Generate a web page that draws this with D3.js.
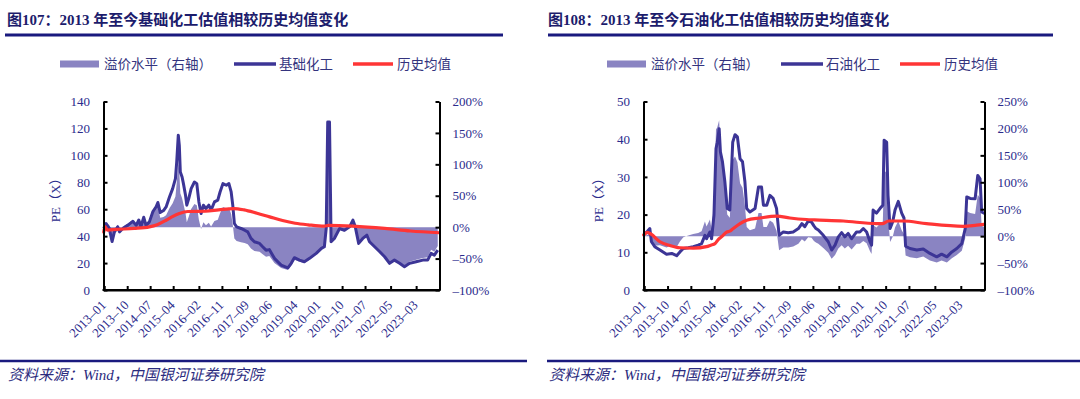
<!DOCTYPE html>
<html><head><meta charset="utf-8">
<script src="https://cdn.jsdelivr.net/npm/d3@7"></script>
<style>body{margin:0;background:#fff}svg{display:block}</style>
</head><body><svg id="c" width="1080" height="399"></svg>
<script>
// ---------- DATA ----------
const xTickLabels = ["2013-01","2013-10","2014-07","2015-04","2016-02","2016-11","2017-09","2018-06","2019-04","2020-01","2020-10","2021-07","2022-05","2023-03"];

const chemDates = ["2013-01-04","2013-02-01","2013-03-10","2013-04-13","2013-05-10","2013-06-19","2013-07-10","2013-08-19","2013-10-16","2013-12-16",
"2014-01-25","2014-02-25","2014-03-22","2014-04-25","2014-05-22","2014-07-01","2014-08-10","2014-09-19","2014-10-10","2014-11-07",
"2014-12-16","2015-01-16","2015-02-25","2015-04-04","2015-05-07","2015-05-22","2015-06-10","2015-06-22","2015-07-04","2015-07-25",
"2015-08-10","2015-09-04","2015-09-19","2015-10-13","2015-11-10","2015-12-19","2016-01-16","2016-02-10","2016-03-07","2016-04-04",
"2016-05-04","2016-06-07","2016-07-04","2016-08-13","2016-09-22","2016-10-19","2016-11-22","2017-01-01","2017-02-01","2017-02-28",
"2017-03-19","2017-04-07","2017-05-04","2017-06-25","2017-08-07","2017-09-13","2017-10-22","2017-12-01","2018-02-01","2018-03-10",
"2018-04-19","2018-05-28","2018-07-28","2018-10-16","2019-01-04","2019-02-13","2019-03-22","2019-05-22","2019-07-19","2019-09-19",
"2019-12-07","2020-02-07","2020-03-13","2020-04-04","2020-04-22","2020-05-13","2020-05-25","2020-06-01","2020-07-10","2020-09-10",
"2020-11-07","2021-01-07","2021-02-16","2021-03-16","2021-04-25","2021-06-13","2021-08-01","2021-09-01","2021-11-01","2022-01-01",
"2022-02-28","2022-04-28","2022-06-25","2022-08-25","2022-10-22","2022-12-22","2023-03-10","2023-05-28","2023-07-25","2023-09-04",
"2023-10-13","2023-11-22"];
const chemPE = [45.7,49.4,46,36,43,47,43.2,45.7,48,51,
48,52,47,54,48,50.6,58,61.7,65,57.5,
59,61.7,69,75.3,82.7,95,115,107.4,87.6,83.9,
79,70.4,63,68,75.3,80.2,79,65.4,56.8,63,
60.5,63,59.3,65.4,66.7,72.8,79,77.8,79,72.8,
63,49.4,46.9,45.7,44.4,43.2,38.3,35.8,34.6,32.1,
29.6,30,23.5,18.5,16.5,19.8,24,22.2,21,23.5,
27.2,30.9,32.1,45.7,124.7,124.7,70.4,35.8,38.3,45.7,
44.4,46.9,51.9,46.9,34.6,38.3,40.7,35.8,32.1,28.4,
24.7,19.8,22.2,19.8,17.3,19.8,21,22.2,22.2,27.2,
25.9,29.6];
const chemPremium = [0.06,0.07,0.03,-0.20,-0.04,0.04,-0.04,0.01,0.06,0.12,
0.05,0.13,0.02,0.16,0.03,0.08,0.22,0.28,0.33,0.15,
0.16,0.19,0.30,0.38,0.49,0.70,1.04,0.89,0.54,0.46,
0.37,0.22,0.08,0.17,0.29,0.37,0.35,0.12,-0.03,0.08,
0.03,0.07,0.01,0.10,0.12,0.22,0.32,0.30,0.31,0.21,
0.04,-0.18,-0.22,-0.24,-0.25,-0.27,-0.34,-0.38,-0.39,-0.43,
-0.47,-0.46,-0.57,-0.65,-0.68,-0.61,-0.52,-0.55,-0.57,-0.52,
-0.43,-0.35,-0.32,-0.04,1.60,1.60,0.47,-0.25,-0.20,-0.04,
-0.07,-0.01,0.09,-0.01,-0.27,-0.18,-0.13,-0.23,-0.31,-0.38,
-0.46,-0.56,-0.51,-0.56,-0.61,-0.55,-0.52,-0.49,-0.48,-0.36,
-0.39,-0.30];
const chemMeanDates = ["2013-01-04","2013-01-19","2013-02-16","2013-06-01","2014-01-01","2014-07-01","2014-10-01","2015-01-16","2015-04-01","2015-06-22",
"2015-10-01","2016-05-01","2016-10-01","2017-04-01","2017-08-01","2018-01-01","2018-06-01","2018-11-01","2019-04-01","2019-09-01",
"2020-03-13","2020-05-01","2021-02-16","2022-03-01","2023-01-01","2023-12-13"];
const chemMean = [43,47,44.5,45,45.7,46.9,48.5,51.8,54.5,56.8,
58.3,58.5,59.5,60.5,59.5,57,54.3,51.6,49.6,48.4,
47.4,48,47.4,45.7,43.8,42.5];

const petroDates = ["2013-01-04","2013-02-16","2013-03-16","2013-04-04","2013-05-13","2013-07-13","2013-09-28","2013-11-28","2014-01-25","2014-03-04",
"2014-04-13","2014-06-10","2014-08-07","2014-10-04","2014-11-13","2014-12-22","2015-01-10","2015-02-19","2015-03-10","2015-04-07",
"2015-05-01","2015-05-16","2015-06-07","2015-06-22","2015-07-16","2015-08-13","2015-09-10","2015-10-10","2015-11-13","2015-12-10",
"2016-01-07","2016-02-07","2016-03-07","2016-04-04","2016-04-25","2016-06-01","2016-08-01","2016-09-10","2016-10-16","2016-11-07",
"2016-12-16","2017-01-22","2017-03-01","2017-04-10","2017-05-10","2017-06-28","2017-08-25","2017-10-22","2017-12-22","2018-02-01",
"2018-03-07","2018-04-16","2018-05-25","2018-06-22","2018-07-16","2018-08-13","2018-10-10","2018-12-07","2019-01-16","2019-02-25",
"2019-04-04","2019-05-13","2019-06-19","2019-07-28","2019-09-07","2019-11-04","2019-12-13","2020-01-22","2020-03-01","2020-04-10",
"2020-04-28","2020-05-16","2020-06-25","2020-08-04","2020-09-07","2020-09-22","2020-10-22","2020-11-07","2020-12-01","2021-01-01",
"2021-01-28","2021-03-07","2021-04-16","2021-05-13","2021-06-01","2021-07-22","2021-10-10","2021-12-25","2022-03-13","2022-06-01",
"2022-07-28","2022-09-28","2022-11-25","2023-01-22","2023-03-22","2023-05-01","2023-05-19","2023-06-28","2023-08-25","2023-09-25",
"2023-10-22","2023-11-10","2023-12-13"];
const petroPE = [14.6,15.6,16.3,12.8,11.5,10.6,9.5,9.7,9.1,10.1,
11.0,11.2,11.5,11.9,12.3,14.5,13.6,15.4,13.6,19.8,
37.5,39.2,42.8,36.6,34,28.7,21.6,21.2,39.2,41.2,
40.6,34.8,34,28.7,21.6,20.7,21.6,27.3,27.3,22.5,
22.5,25.1,24.3,21.6,14.5,15.4,15.2,15.4,16.3,17.6,
16.8,18.3,18.0,17.0,16.3,15.9,14.5,12.8,10.6,11.9,
14.1,15.2,14.1,15.0,13.6,15.4,15.4,16.3,15.4,12.8,
11.9,21.2,20.4,21.6,22.5,39.7,39.2,25.1,16.3,18.1,
21.2,23.5,20.4,19.1,11.6,11.0,10.6,10.9,9.7,8.8,
9.5,8.8,10.1,11.0,12.3,16.3,24.7,24.3,24.2,30.4,
29.5,20.7,20.3];
const petroPremium = [0.00,0.02,0.08,-0.14,-0.18,-0.17,-0.21,-0.17,-0.20,-0.10,
-0.02,0.01,0.04,0.06,0.09,0.27,0.18,0.31,0.13,0.62,
1.98,2.02,2.15,1.63,1.36,0.91,0.40,0.34,1.42,1.48,
1.37,0.98,0.90,0.57,0.17,0.11,0.14,0.43,0.43,0.17,
0.17,0.29,0.25,0.10,-0.26,-0.21,-0.21,-0.19,-0.14,-0.06,
-0.10,-0.02,-0.03,-0.09,-0.12,-0.14,-0.22,-0.31,-0.42,-0.35,
-0.23,-0.17,-0.23,-0.18,-0.25,-0.14,-0.14,-0.09,-0.13,-0.28,
-0.33,0.20,0.16,0.23,0.27,1.23,1.17,0.38,-0.11,-0.01,
0.16,0.28,0.11,0.04,-0.36,-0.39,-0.41,-0.38,-0.45,-0.49,
-0.45,-0.49,-0.41,-0.35,-0.27,-0.04,0.46,0.43,0.41,0.77,
0.71,0.19,0.17];
const petroMeanDates = ["2013-01-04","2013-02-16","2013-04-01","2013-07-13","2013-11-07","2014-03-04","2014-08-07","2015-01-10","2015-03-01","2015-04-19",
"2015-06-01","2015-07-04","2015-09-04","2015-10-10","2015-11-19","2016-02-07","2016-04-25","2016-09-28","2017-04-10","2017-09-13",
"2018-03-28","2018-07-01","2019-06-01","2020-06-25","2020-09-01","2020-11-13","2021-05-04","2022-02-01","2023-04-10","2023-09-13","2023-12-13"];
const petroMean = [14.6,15.3,14.8,12.8,11.8,11.2,11.1,11.5,11.9,12.3,
13.5,14.1,15.4,15.6,16.3,17.6,18.5,19.1,19.6,19.1,
18.7,18.6,18.3,17.6,17.6,18.3,18.3,17.6,16.9,17.2,17.4];

const chemPETicks = [0,20,40,60,80,100,120,140];
const chemPremTicks = [-1,-0.5,0,0.5,1,1.5,2];
const petroPETicks = [0,10,20,30,40,50];
const petroPremTicks = [-1,-0.5,0,0.5,1,1.5,2,2.5];
const legendNames = ["溢价水平（右轴）","历史均值"];

// ---------- DRAW ----------
const svg = d3.select("#c");
svg.append("rect").attr("width",1080).attr("height",399).attr("fill","#fff");
const FONT = "'Liberation Serif','Times New Roman','Noto Sans CJK SC',serif";
const NAVY = "#1a1a7e";
const TICKC = "#2b2b8c";
const AREA = "#8a84c2", LINE = "#3c3596", RED = "#ff3535";
const parse = d3.timeParse("%Y-%m-%d");

function drawChart(o) {
  const g = svg.append("g");
  // title
  g.append("text").attr("x", o.titleX).attr("y", 25).text(o.title)
    .attr("font-family", FONT).attr("font-size", 15).attr("font-weight", "bold").attr("fill", "#1c1c6c");
  g.append("line").attr("x1", o.titleRule[0]).attr("x2", o.titleRule[1]).attr("y1", 35).attr("y2", 35)
    .attr("stroke", NAVY).attr("stroke-width", 3);
  // footer
  g.append("line").attr("x1", o.footRule[0]).attr("x2", o.footRule[1]).attr("y1", 361).attr("y2", 361)
    .attr("stroke", NAVY).attr("stroke-width", 2.5);
  g.append("text").attr("x", o.footX).attr("y", 380).text("资料来源：Wind，中国银河证券研究院")
    .attr("font-family", FONT).attr("font-size", 15).attr("font-style", "italic").attr("fill", "#2b2b7e");

  // legend
  const lx = o.legX;
  const leg = g.append("g").attr("font-family", FONT).attr("font-size", 13.5).attr("fill", "#34347e");
  leg.append("rect").attr("x", lx).attr("y", 60.5).attr("width", 39).attr("height", 7).attr("fill", AREA);
  leg.append("text").attr("x", lx + 44).attr("y", 69).text(legendNames[0]);
  leg.append("line").attr("x1", lx + 174).attr("x2", lx + 216).attr("y1", 64).attr("y2", 64).attr("stroke", LINE).attr("stroke-width", 3.5);
  leg.append("text").attr("x", lx + 219).attr("y", 69).text(o.name);
  leg.append("line").attr("x1", lx + 293).attr("x2", lx + 333).attr("y1", 64).attr("y2", 64).attr("stroke", RED).attr("stroke-width", 3.5);
  leg.append("text").attr("x", lx + 337).attr("y", 69).text(legendNames[1]);

  // scales
  const top = 101.5, bot = 290;
  const x = d3.scaleTime().domain([parse("2013-01-01"), parse("2023-12-13")]).range([o.plotL, o.plotR]);
  const y = d3.scaleLinear().domain([0, d3.max(o.peTicks)]).range([bot, top]);
  const yR = d3.scaleLinear().domain(d3.extent(o.premTicks)).range([bot, top]);

  const dates = o.dates.map(parse);
  const mDates = o.meanDates.map(parse);

  // premium area
  g.append("path").datum(dates.map((d, i) => [d, o.prem[i]]))
    .attr("fill", AREA)
    .attr("d", d3.area().x(d => x(d[0])).y0(yR(0)).y1(d => yR(d[1])));
  // PE line
  g.append("path").datum(dates.map((d, i) => [d, o.pe[i]]))
    .attr("fill", "none").attr("stroke", LINE).attr("stroke-width", 3).attr("stroke-linejoin", "round")
    .attr("d", d3.line().x(d => x(d[0])).y(d => y(d[1])));
  // mean line
  g.append("path").datum(mDates.map((d, i) => [d, o.mean[i]]))
    .attr("fill", "none").attr("stroke", RED).attr("stroke-width", 3.2).attr("stroke-linecap", "round")
    .attr("d", d3.line().curve(d3.curveMonotoneX).x(d => x(d[0])).y(d => y(d[1])));

  // axes
  const styleAxis = sel => {
    sel.select(".domain").attr("stroke", "#000").attr("stroke-width", 2);
    sel.selectAll(".tick line").attr("stroke", "#000").attr("stroke-width", 2);
    sel.selectAll("text").attr("font-family", FONT).attr("font-size", 13).attr("fill", TICKC);
  };
  g.append("g").attr("transform", `translate(${o.plotL},0)`)
    .call(d3.axisLeft(y).tickValues(o.peTicks).tickSize(-4).tickSizeOuter(0).tickPadding(13.5))
    .call(styleAxis);
  g.append("g").attr("transform", `translate(${o.plotR},0)`)
    .call(d3.axisRight(yR).tickValues(o.premTicks).tickSize(-4).tickSizeOuter(0).tickPadding(13)
      .tickFormat(d => (d < 0 ? "–" : "") + Math.round(Math.abs(d) * 100) + "%"))
    .call(styleAxis);
  const tickDates = xTickLabels.map(s => parse(s + "-10"));
  const xa = g.append("g").attr("transform", `translate(0,${bot})`)
    .call(d3.axisBottom(x).tickValues(tickDates).tickSize(-4).tickSizeOuter(0)
      .tickFormat((d, i) => xTickLabels[i].replace("-", "–")))
    .call(styleAxis);
  xa.selectAll("text").attr("x", 0).attr("y", 0).attr("dy", 0)
    .attr("text-anchor", "end").attr("transform", "translate(2,16) rotate(-45)");
  // extend domain line to full width
  g.append("line").attr("x1", o.plotL - 1).attr("x2", o.plotR + 1).attr("y1", bot).attr("y2", bot)
    .attr("stroke", "#000").attr("stroke-width", 2);

  // y title
  g.append("text").attr("transform", `translate(${o.yTitleX},197) rotate(-90)`)
    .attr("text-anchor", "middle").attr("dominant-baseline", "middle")
    .attr("font-family", FONT).attr("font-size", 13).attr("fill", TICKC).text("PE（X）");
}

drawChart({
  title: "图107：2013 年至今基础化工估值相较历史均值变化", name: "基础化工",
  titleX: 7, titleRule: [5, 503], footRule: [0, 527], footX: 8, legX: 60,
  plotL: 103.5, plotR: 439.5, yTitleX: 57,
  dates: chemDates, pe: chemPE, prem: chemPremium, meanDates: chemMeanDates, mean: chemMean,
  peTicks: chemPETicks, premTicks: chemPremTicks
});
drawChart({
  title: "图108：2013 年至今石油化工估值相较历史均值变化", name: "石油化工",
  titleX: 548, titleRule: [548, 1053], footRule: [547, 1080], footX: 549, legX: 607,
  plotL: 643.5, plotR: 984.5, yTitleX: 600,
  dates: petroDates, pe: petroPE, prem: petroPremium, meanDates: petroMeanDates, mean: petroMean,
  peTicks: petroPETicks, premTicks: petroPremTicks
});
</script></body></html>
